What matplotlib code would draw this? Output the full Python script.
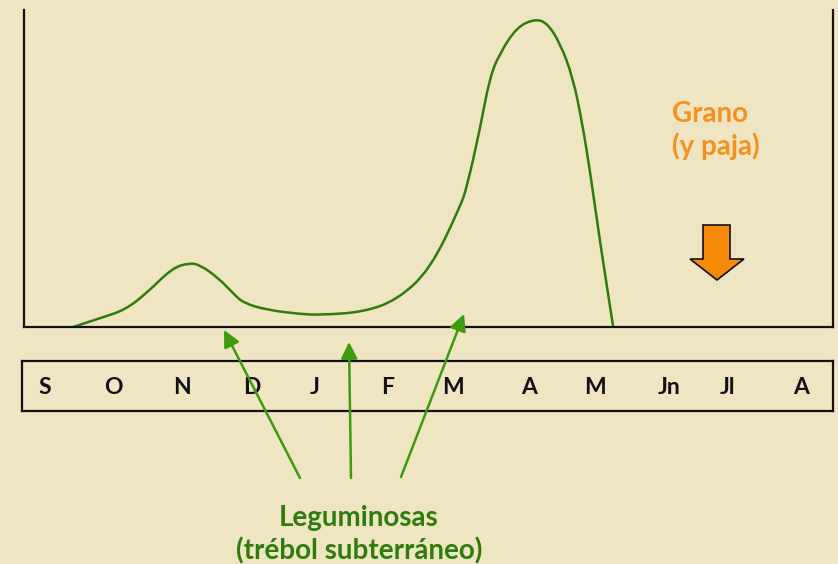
import numpy as np
import matplotlib
matplotlib.use('Agg')
import matplotlib.pyplot as plt
from matplotlib.patches import Polygon, PathPatch
from matplotlib.path import Path

plt.rcParams['font.family'] = ['Lato', 'DejaVu Sans']

# curva de crecimiento de la pradera (meses desde septiembre, biomasa relativa)
mes = [0.73, 1.13, 1.50, 1.82, 2.20, 2.45, 2.61, 2.88, 3.10, 3.25, 3.60, 4.09,
       4.39, 5.03, 5.53, 6.02, 6.47, 6.57, 6.76, 6.91, 7.06, 7.31, 7.58, 7.76,
       7.95, 8.14, 8.28, 8.40, 8.54, 8.74]
biomasa = [0, 2.8, 5.4, 10.7, 18.6, 20.2, 19.6, 15.5, 10.7, 7.6, 5.4, 4.1,
           3.8, 4.7, 8.5, 18.0, 37.9, 44.2, 62.1, 78.9, 86.4, 94.6, 97.2, 95.9,
           89.6, 78.9, 64.4, 48.6, 27.4, 0]

meses = ['S', 'O', 'N', 'D', 'J', 'F', 'M', 'A', 'M', 'Jn', 'Jl', 'A']
pos_meses = [0.31, 1.32, 2.34, 3.37, 4.30, 5.38, 6.35, 7.48, 8.45, 9.54, 10.41, 11.50]

fondo = '#F0E5C3'
verde = '#2E7D0B'
verde_flecha = '#3C9A0C'
naranja = '#F7901E'

fig = plt.figure(figsize=(8.38, 5.64), dpi=100, facecolor=fondo)
W, H = 838, 564

ax = fig.add_axes([24 / W, 1 - 327 / H, 809 / W, 317 / H])
ax.set_facecolor('none')

# trazo suavizado con curvas cuadraticas por los puntos medios
pts = np.column_stack([mes, biomasa])
verts = [pts[0]]
codes = [Path.MOVETO]
for i in range(1, len(pts) - 1):
    verts += [pts[i], (pts[i] + pts[i + 1]) / 2]
    codes += [Path.CURVE3, Path.CURVE3]
verts.append(pts[-1])
codes.append(Path.LINETO)
ax.add_patch(PathPatch(Path(verts, codes), facecolor='none', edgecolor=verde,
                       lw=1.8, capstyle='round', joinstyle='round'))

ax.set_xlim(0, 12)
ax.set_ylim(0, 100)
ax.set_xticks([])
ax.set_yticks([])
ax.spines['top'].set_visible(False)
for s in ['left', 'bottom', 'right']:
    ax.spines[s].set_linewidth(1.6)
    ax.spines[s].set_color('#111111')

# caja de meses
axm = fig.add_axes([22 / W, 1 - 411 / H, 811 / W, 50 / H])
axm.set_facecolor('none')
axm.set_xlim(0, 12)
axm.set_ylim(0, 1)
axm.set_xticks([])
axm.set_yticks([])
for s in axm.spines.values():
    s.set_linewidth(1.6)
    s.set_color('#111111')
for p, m in zip(pos_meses, meses):
    axm.text(p + 0.03, 0.47, m, ha='center', va='center', fontsize=16.5,
             fontweight='bold', color='#111111')

# capa para anotaciones en pixeles
ov = fig.add_axes([0, 0, 1, 1])
ov.set_xlim(0, W)
ov.set_ylim(H, 0)
ov.axis('off')
ov.patch.set_visible(False)

flechas = [((300, 478), (224, 330)), ((351, 478), (349, 342)), ((401, 477), (464, 314))]
for cola, punta in flechas:
    ov.annotate('', xy=punta, xytext=cola,
                arrowprops=dict(arrowstyle='-|>,head_length=1.0,head_width=0.5',
                                color=verde_flecha, lw=1.8, shrinkA=0, shrinkB=0))

ov.text(359, 526, 'Leguminosas', ha='center', va='baseline', fontsize=20,
        fontweight='bold', color=verde)
ov.text(359, 559, '(trébol subterráneo)', ha='center', va='baseline', fontsize=20,
        fontweight='bold', color=verde)

ov.text(672, 122, 'Grano', ha='left', va='baseline', fontsize=20,
        fontweight='bold', color=naranja)
ov.text(672, 155, '(y paja)', ha='left', va='baseline', fontsize=20,
        fontweight='bold', color=naranja)

flecha_grano = Polygon([(703, 225), (730, 225), (730, 259), (744, 259), (717, 280),
                        (690, 259), (703, 259)], closed=True,
                       facecolor='#F58A07', edgecolor='#111111', lw=1.2)
ov.add_patch(flecha_grano)

fig.savefig('out.png', dpi=100, facecolor=fondo)
